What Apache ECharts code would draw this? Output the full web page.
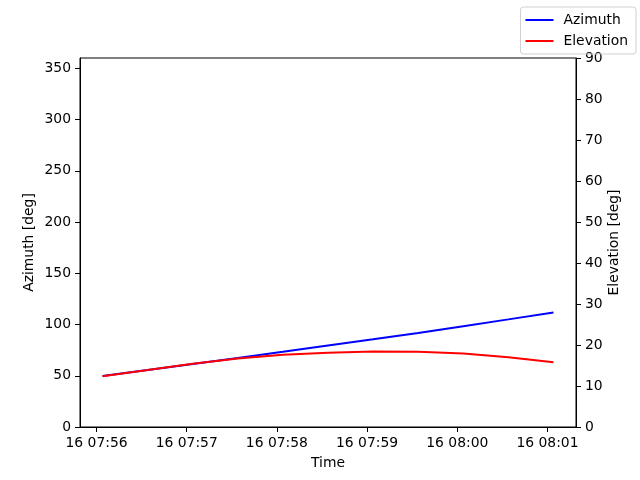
<!DOCTYPE html>
<html><head><meta charset="utf-8">
<script src="https://cdn.jsdelivr.net/npm/echarts@6/dist/echarts.min.js"></script>
<style>html,body{margin:0;padding:0;background:#fff}#c{width:640px;height:480px}</style>
</head><body><div id="c"></div>
<script>
var dayLabel = '16';
var times = ['07:56:04','07:56:34','07:57:04','07:57:34','07:58:04','07:58:34','07:59:04','07:59:34','08:00:04','08:00:34','08:01:04'];
var azimuth = [49.8,55.6,61.5,67.4,73.4,79.5,85.6,91.8,98.4,105.0,111.7];
var elevation = [12.4,13.9,15.4,16.7,17.6,18.1,18.4,18.35,17.9,17.0,15.8];
var xTicks = ['07:56:00','07:57:00','07:58:00','07:59:00','08:00:00','08:01:00'];
var xMin = '07:55:49', xMax = '08:01:19';
var azTicks = [0,50,100,150,200,250,300,350];

function sec(t){ var p=t.split(':'); return (+p[0])*3600+(+p[1])*60+(+p[2]); }
function pad(n){ return (n<10?'0':'')+n; }
function fmt(v){ var h=Math.floor(v/3600), m=Math.round((v-h*3600)/60); return dayLabel+' '+pad(h)+':'+pad(m); }

var font = 'DejaVu Sans';
var lab = {color:'#000', fontFamily:font, fontSize:13.9};
var tick = {show:true,inside:false,length:5,lineStyle:{color:'#000',width:1}};
var chart = echarts.init(document.getElementById('c'));
chart.setOption({
  animation:false,
  grid:{left:80,right:64,top:58,bottom:53,show:true,borderColor:'#000',borderWidth:1,backgroundColor:'transparent'},
  legend:{
    orient:'vertical', right:4, top:7, icon:'rect', itemWidth:28, itemHeight:2, itemGap:7,
    borderColor:'#d0d0d0', borderWidth:1, borderRadius:3, padding:[6,8,6,5],
    textStyle:{color:'#000', fontFamily:font, fontSize:13.9, padding:[0,0,0,5]},
    data:['Azimuth','Elevation']
  },
  xAxis:{
    type:'value', min:sec(xMin), max:sec(xMax),
    name:'Time', nameLocation:'middle', nameGap:29, nameTextStyle:lab, nameMoveOverlap:false,
    axisLine:{lineStyle:{color:'#000'}},
    axisTick:Object.assign({customValues:xTicks.map(sec)},tick),
    axisLabel:Object.assign({margin:9,formatter:fmt,customValues:xTicks.map(sec)},lab),
    splitLine:{show:false}
  },
  yAxis:[{
    type:'value', min:0, max:360, interval:50, position:'left',
    name:'Azimuth [deg]', nameLocation:'middle', nameGap:44, nameRotate:90, nameTextStyle:lab, nameMoveOverlap:false,
    axisLine:{show:true,lineStyle:{color:'#000'}},
    axisTick:Object.assign({customValues:azTicks},tick),
    axisLabel:Object.assign({margin:9,customValues:azTicks},lab),
    splitLine:{show:false}
  },{
    type:'value', min:0, max:90, interval:10, position:'right',
    name:'Elevation [deg]', nameLocation:'middle', nameGap:31, nameRotate:90, nameTextStyle:lab, nameMoveOverlap:false,
    axisLine:{show:true,lineStyle:{color:'#000'}},
    axisTick:tick,
    axisLabel:Object.assign({margin:9},lab),
    splitLine:{show:false}
  }],
  series:[{
    name:'Azimuth', type:'line', yAxisIndex:0, symbol:'none', smooth:false,
    lineStyle:{color:'#0000ff',width:2}, itemStyle:{color:'#0000ff'},
    data:times.map(function(t,i){return [sec(t),azimuth[i]];})
  },{
    name:'Elevation', type:'line', yAxisIndex:1, symbol:'none', smooth:false,
    lineStyle:{color:'#ff0000',width:2}, itemStyle:{color:'#ff0000'},
    data:times.map(function(t,i){return [sec(t),elevation[i]];})
  }]
});
</script></body></html>
